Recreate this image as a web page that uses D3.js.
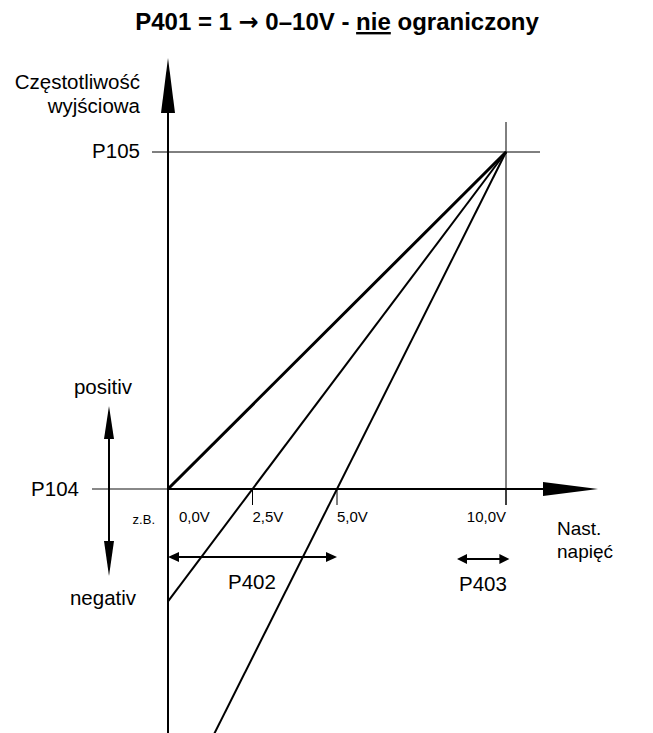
<!DOCTYPE html>
<html>
<head>
<meta charset="utf-8">
<script src="https://cdn.jsdelivr.net/npm/d3@7"></script>
<style>
  html, body { margin: 0; padding: 0; background: #fff; }
  svg { display: block; font-family: Arial, "Liberation Sans", sans-serif; }
</style>
</head>
<body>
<svg id="chart" width="653" height="733"></svg>
<script>
// Setpoint voltage (V) -> output frequency (fraction of P105)
const voltageDomain = [0, 10];
const freqDomain = [0, 1];
const tickVoltages = [2.5, 5, 10];
const tickLabels = ["0,0V", "2,5V", "5,0V", "10,0V"];
const tickLabelVoltages = [0, 2.5, 5, 10];
// Offsets (V) where each characteristic crosses P104
const curveOffsets = [0, 2.5, 5];
const curveWidths = [3, 2, 2];
const p402Range = [0, 5];
const p403Range = [8.55, 10.1];

const svg = d3.select("#chart");
const x = d3.scaleLinear().domain(voltageDomain).range([168, 506]);
const y = d3.scaleLinear().domain(freqDomain).range([489, 152]);

const x0 = x(0), y0 = y(0);

// Title
const title = svg.append("text")
  .attr("x", 337).attr("y", 30)
  .attr("text-anchor", "middle")
  .attr("font-weight", "bold")
  .attr("font-size", 24);
title.append("tspan").text("P401 = 1 ");
title.append("tspan").attr("font-family", "DejaVu Sans").text("\u2192");
title.append("tspan").text(" 0\u201310V - ");
title.append("tspan").attr("text-decoration", "underline").text("nie");
title.append("tspan").text(" ograniczony");

// Reference lines for P105 and 10 V
svg.append("line")
  .attr("x1", 152).attr("x2", 540)
  .attr("y1", y(1)).attr("y2", y(1))
  .attr("stroke", "#000").attr("stroke-width", 1);
svg.append("line")
  .attr("x1", x(10)).attr("x2", x(10))
  .attr("y1", 122).attr("y2", y0 + 16)
  .attr("stroke", "#000").attr("stroke-width", 1);

// P104 leader (grey)
svg.append("line")
  .attr("x1", 92).attr("x2", x0)
  .attr("y1", y0).attr("y2", y0)
  .attr("stroke", "#888").attr("stroke-width", 2);

// Ticks below the voltage axis
svg.selectAll("line.tick").data(tickVoltages).join("line")
  .attr("class", "tick")
  .attr("x1", d => x(d)).attr("x2", d => x(d))
  .attr("y1", y0).attr("y2", y0 + 16)
  .attr("stroke", "#000").attr("stroke-width", 1);

// Voltage axis with arrow
svg.append("line")
  .attr("x1", x0).attr("x2", 545)
  .attr("y1", y0).attr("y2", y0)
  .attr("stroke", "#000").attr("stroke-width", 2);
svg.append("path")
  .attr("d", `M543,${y0 - 7}L598,${y0}L543,${y0 + 7}Z`)
  .attr("fill", "#000");

// Frequency axis with arrow
svg.append("line")
  .attr("x1", x0).attr("x2", x0)
  .attr("y1", 110).attr("y2", 733)
  .attr("stroke", "#000").attr("stroke-width", 2);
svg.append("path")
  .attr("d", `M${x0 - 7},113L${x0},58L${x0 + 7},113Z`)
  .attr("fill", "#000");

// Characteristics
const line = d3.line().x(d => x(d[0])).y(d => y(d[1]));
curveOffsets.forEach((off, i) => {
  const f = v => (v - off) / (10 - off);
  svg.append("path")
    .attr("d", line([[0, f(0)], [10, f(10)]]))
    .attr("fill", "none")
    .attr("stroke", "#000")
    .attr("stroke-width", curveWidths[i]);
});

// Tick labels
svg.selectAll("text.tl").data(tickLabelVoltages).join("text")
  .attr("class", "tl")
  .attr("x", (d, i) => i === 0 ? x(d) + 11 : x(d))
  .attr("y", 522)
  .attr("text-anchor", (d, i) => i === 3 ? "end" : "start")
  .attr("font-size", 15)
  .text((d, i) => tickLabels[i]);

svg.append("text").attr("x", 155).attr("y", 524)
  .attr("text-anchor", "end").attr("font-size", 13).text("z.B.");

// Axis labels
const lab = (t, xx, yy, anchor, size = 20.5) => svg.append("text")
  .attr("x", xx).attr("y", yy).attr("text-anchor", anchor)
  .attr("font-size", size).text(t);
lab("Częstotliwość", 140, 89, "end");
lab("wyjściowa", 140, 113, "end");
lab("P105", 140, 158, "end");
lab("P104", 79, 496, "end");
lab("positiv", 103, 394, "middle");
lab("negativ", 103, 605, "middle");
lab("Nast.", 557, 535, "start", 19);
lab("napięć", 557, 558, "start", 19);
lab("P402", 252, 589, "middle");
lab("P403", 483, 591, "middle");

// positiv / negativ double arrow
const ax = 109;
svg.append("line").attr("x1", ax).attr("x2", ax)
  .attr("y1", 436).attr("y2", 544)
  .attr("stroke", "#000").attr("stroke-width", 2);
svg.append("path").attr("d", `M${ax - 5},439L${ax},406L${ax + 5},439Z`).attr("fill", "#000");
svg.append("path").attr("d", `M${ax - 5},541L${ax},576L${ax + 5},541Z`).attr("fill", "#000");

// Range arrows for P402 / P403
function rangeArrow(r, yy, head) {
  const a = x(r[0]), b = x(r[1]);
  svg.append("line").attr("x1", a + 4).attr("x2", b - 4)
    .attr("y1", yy).attr("y2", yy)
    .attr("stroke", "#000").attr("stroke-width", 2);
  svg.append("path").attr("d", `M${a},${yy}L${a + head},${yy - 5}L${a + head},${yy + 5}Z`).attr("fill", "#000");
  svg.append("path").attr("d", `M${b},${yy}L${b - head},${yy - 5}L${b - head},${yy + 5}Z`).attr("fill", "#000");
}
rangeArrow(p402Range, 557, 11);
rangeArrow(p403Range, 559, 10);
</script>
</body>
</html>
